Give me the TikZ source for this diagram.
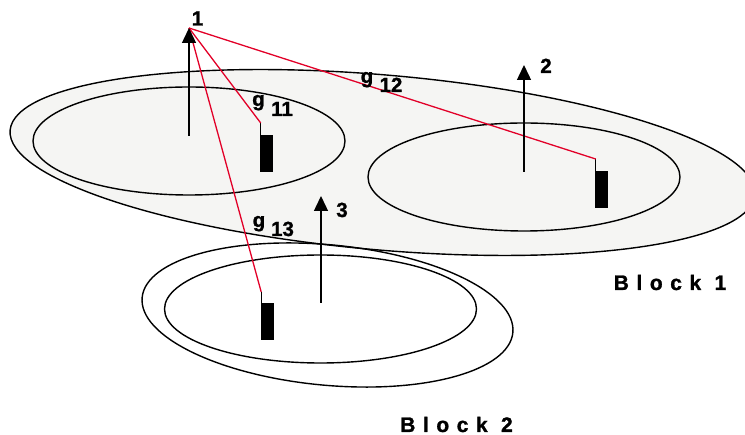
\documentclass[tikz,border=0pt]{standalone}
\usepackage{fontspec}
\setmainfont{Liberation Sans}
\usetikzlibrary{arrows.meta}
\definecolor{fillgrey}{RGB}{245,245,243}
\definecolor{linkred}{RGB}{226,0,40}
\begin{document}
\begin{tikzpicture}[x=1pt,y=-1pt,
  outline/.style={draw=black,line width=1.4pt},
  antenna/.style={line width=1.4pt,-{Triangle[width=14pt,length=15pt]}},
  link/.style={draw=linkred,line width=1.3pt},
  terminal/.style={fill=black,draw=none,minimum width=13pt,minimum height=37pt,inner sep=0pt,outer sep=0pt},
  lbl/.style={font=\fontsize{20.5}{24}\selectfont\bfseries\addfontfeature{FakeBold=1.2},inner sep=0pt},
  blocklbl/.style={font=\fontsize{21}{25}\selectfont\bfseries\addfontfeature{LetterSpace=36,FakeBold=1.2},inner sep=0pt},
  ]
\useasboundingbox (0,0) rectangle (745,435);
\begin{scope}
\clip (0,0) rectangle (745,435);
% Block 1
\draw[outline,fill=fillgrey,rotate around={-4.95:(382.5,162.5)}] (382.5,162.5) ellipse [x radius=373.8pt, y radius=87.5pt];
\draw[outline] (189,141) ellipse [x radius=156pt, y radius=54pt];
\draw[outline] (524,177) ellipse [x radius=156pt, y radius=54pt];
% Block 2
\draw[outline,rotate around={-5.39:(327.5,315)}] (327.5,315) ellipse [x radius=186.2pt, y radius=70.2pt];
\draw[outline] (320.5,309) ellipse [x radius=156pt, y radius=54pt];
\end{scope}

% antennas
\coordinate (a1b) at (189,136); \coordinate (a1t) at (189,28);
\coordinate (a2b) at (524,172); \coordinate (a2t) at (524,65);
\coordinate (a3b) at (321,303); \coordinate (a3t) at (321,196);

% terminals
\node[terminal,anchor=north west] (t1) at (260,135) {};
\node[terminal,anchor=north west] (t2) at (595,171) {};
\node[terminal,anchor=north west] (t3) at (260.5,303) {};
\coordinate (t1top) at (260.7,123);
\coordinate (t2top) at (595.7,159);
\coordinate (t3top) at (261.2,292);
\draw[line width=1.3pt] (t1top) -- ([xshift=0.7pt]t1.north west);
\draw[line width=1.3pt] (t2top) -- ([xshift=0.7pt]t2.north west);
\draw[line width=1.3pt] (t3top) -- ([xshift=0.7pt]t3.north west);

% links
\draw[link] (a1t) -- (t1top);
\draw[link] (a1t) -- (t2top);
\draw[link] (a1t) -- (t3top);

\draw[antenna] (a1b) -- (a1t);
\draw[antenna] (a2b) -- (a2t);
\draw[antenna] (a3b) -- (a3t);

% labels
\node[lbl,anchor=base] (l1) at (197.5,25.5) {1};
\node[lbl,anchor=base] (l2) at (546,73) {2};
\node[lbl,anchor=base] (l3) at (342,217) {3};

\node[lbl,anchor=base] (g11) at (258.5,106) {g};
\node[lbl,anchor=base] (s11) at (282,116) {11};
\node[lbl,anchor=base] (g12) at (367,83) {g};
\node[lbl,anchor=base] (s12) at (391,92) {12};
\node[lbl,anchor=base] (g13) at (259,227) {g};
\node[lbl,anchor=base] (s13) at (282.5,236) {13};

\node[blocklbl,anchor=base] (b1) at (670,290) {Block 1};
\node[blocklbl,anchor=base] (b2) at (456.5,432) {Block 2};
\end{tikzpicture}
\end{document}
